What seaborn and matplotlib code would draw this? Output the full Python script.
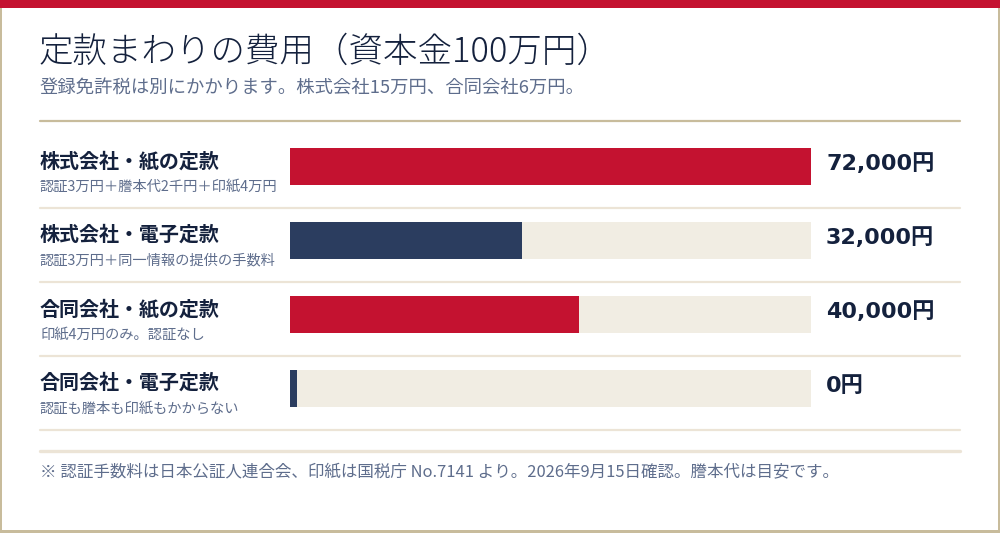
import matplotlib
matplotlib.use("Agg")
import matplotlib.pyplot as plt
import seaborn as sns
import pandas as pd
from matplotlib.lines import Line2D
from matplotlib.patches import Rectangle

# chart data
labels = ["株式会社・紙の定款", "株式会社・電子定款", "合同会社・紙の定款", "合同会社・電子定款"]
notes = ["認証3万円＋謄本代2千円＋印紙4万円", "認証3万円＋同一情報の提供の手数料",
         "印紙4万円のみ。認証なし", "認証も謄本も印紙もかからない"]
costs = [72000, 32000, 40000, 0]
kinds = ["paper", "digital", "paper", "digital"]

title = "定款まわりの費用（資本金100万円）"
subtitle = "登録免許税は別にかかります。株式会社15万円、合同会社6万円。"
footer = "※ 認証手数料は日本公証人連合会、印紙は国税庁 No.7141 より。2026年9月15日確認。謄本代は目安です。"

RED = "#C41230"
NAVY = "#2B3D5F"
TRACK = "#F1EDE3"
INK = "#14213D"
GREY = "#5E6D8C"
TAN = "#C8BC9C"
RULE = "#ECE4D6"

sns.set_theme(style="white")
plt.rcParams["font.family"] = ["Noto Sans CJK JP", "DejaVu Sans"]

W, H = 1000, 533
fig = plt.figure(figsize=(10, 5.33), dpi=100)
fig.patch.set_facecolor("white")

# overlay in pixel units for frame and rules
deco = fig.add_axes([0, 0, 1, 1])
deco.set_xlim(0, W)
deco.set_ylim(H, 0)
deco.axis("off")
deco.add_patch(Rectangle((0, 0), W, 8, color=RED, lw=0))
deco.add_patch(Rectangle((0, 8), 2, H - 8, color=TAN, lw=0))
deco.add_patch(Rectangle((W - 2, 8), 2, H - 8, color=TAN, lw=0))
deco.add_patch(Rectangle((0, H - 3), W, 3, color=TAN, lw=0))
deco.add_line(Line2D([40, 960], [121, 121], color=TAN, lw=1.6))

deco.text(39, 52, title, fontsize=24.8, color=INK, va="center", weight="light")
deco.text(40, 89, subtitle, fontsize=13.2, color=GREY, va="center")

row0, step = 166.5, 74
for i, (lab, note, val) in enumerate(zip(labels, notes, costs)):
    yc = row0 + step * i
    deco.text(40, yc - 6, lab, fontsize=14.4, weight="bold", color=INK, va="center")
    deco.text(40, yc + 20, note, fontsize=10.3, color=GREY, va="center")
    deco.text(826, yc - 3, f"{val:,}円", fontsize=16, weight="bold", color=INK, va="center",
              family=["DejaVu Sans", "Noto Sans CJK JP"])
    deco.add_line(Line2D([40, 960], [yc + 41, yc + 41], color=RULE, lw=1.6))
deco.add_line(Line2D([40, 960], [451, 451], color=RULE, lw=2.4))
deco.text(40, 473, footer, fontsize=11.9, color=GREY, va="center")

# bar axes
top = row0 - step / 2
bottom = row0 + step * 3.5
ax = fig.add_axes([290 / W, 1 - bottom / H, 521 / W, (bottom - top) / H])
ax.patch.set_alpha(0)

vmax = max(costs)
df = pd.DataFrame({"label": labels, "cost": costs, "kind": kinds})
df["track"] = vmax
# a zero cost still shows a thin stub
df["shown"] = df["cost"].clip(lower=vmax * 0.013)

sns.barplot(data=df, y="label", x="track", color=TRACK, width=0.5, ax=ax,
            saturation=1, orient="h", linewidth=0)
sns.barplot(data=df, y="label", x="shown", hue="kind", palette={"paper": RED, "digital": NAVY},
            width=0.5, ax=ax, saturation=1, orient="h", dodge=False, legend=False, linewidth=0)

ax.set_xlim(0, vmax)
ax.set_ylim(3.5, -0.5)
ax.axis("off")

fig.savefig("out.png", dpi=100, facecolor="white")
